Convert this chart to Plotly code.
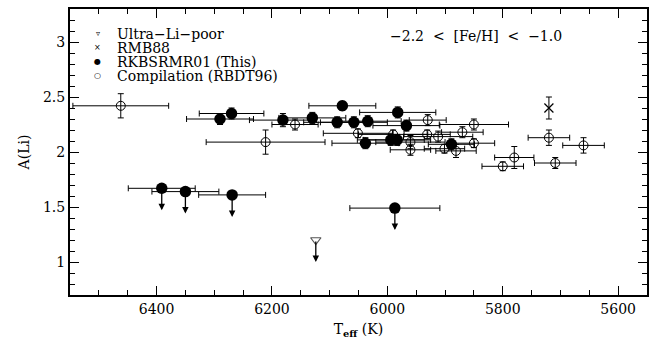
import plotly.graph_objects as go

# ---- Compilation (RBDT96) : open circles ----
comp_teff = [6462, 6211, 6160, 6051, 5990, 5930, 5931, 5912, 5870, 5850, 5850,
             5960, 5960, 5901, 5881, 5780, 5800, 5720, 5709, 5660]
comp_ali = [2.42, 2.09, 2.25, 2.17, 2.16, 2.29, 2.16, 2.14, 2.18, 2.25, 2.08,
            2.09, 2.02, 2.03, 2.01, 1.95, 1.87, 2.13, 1.90, 2.06]
comp_xerr = [83, 103, 40, 60, 60, 32, 40, 60, 36, 60, 36,
             60, 35, 35, 35, 34, 36, 36, 36, 36]
comp_yerr = [0.11, 0.11, 0.05, 0.04, 0.04, 0.05, 0.04, 0.05, 0.05, 0.05, 0.04,
             0.06, 0.05, 0.04, 0.06, 0.10, 0.04, 0.07, 0.05, 0.07]

# ---- RKBSRMR01 (This) : filled circles, detections ----
this_teff = [6290, 6270, 6181, 6130, 6078, 6087, 6058, 6034, 5982, 5967,
             6038, 5994, 5983, 5889]
this_ali = [2.30, 2.35, 2.29, 2.31, 2.42, 2.27, 2.27, 2.28, 2.36, 2.24,
            2.08, 2.11, 2.11, 2.07]
this_xerr = [58, 56, 58, 58, 58, 58, 58, 58, 66, 58, 58, 58, 58, 40]
this_yerr = [0.05, 0.05, 0.06, 0.05, 0.04, 0.05, 0.05, 0.05, 0.05, 0.05,
             0.05, 0.05, 0.05, 0.05]

# ---- RKBSRMR01 upper limits ----
lim_teff = [6391, 6350, 6269, 5987]
lim_ali = [1.67, 1.64, 1.61, 1.49]
lim_xerr = [58, 58, 58, 78]

# ---- RMB88 ----
rmb_teff = [5720]
rmb_ali = [2.40]
rmb_yerr = [0.10]

# ---- Ultra-Li-poor (upper limit) ----
ulp_teff = [6124]
ulp_ali = [1.20]

arrow_len = 0.2

legend_labels = ["Ultra\u2212Li\u2212poor", "RMB88", "RKBSRMR01 (This)",
                 "Compilation (RBDT96)"]
legend_symbols = ["\u25BF", "\u00D7", "\u25CF", "\u25CB"]

FONT = "DejaVu Serif"
ebx = dict(type="data", thickness=1, width=3, color="black")

fig = go.Figure()

fig.add_trace(go.Scatter(
    x=comp_teff, y=comp_ali, mode="markers", showlegend=False,
    marker=dict(symbol="circle-open", size=9, color="black", line=dict(width=1)),
    error_x=dict(array=comp_xerr, **ebx), error_y=dict(array=comp_yerr, **ebx)))

fig.add_trace(go.Scatter(
    x=this_teff, y=this_ali, mode="markers", showlegend=False,
    marker=dict(symbol="circle", size=11.5, color="black"),
    error_x=dict(array=this_xerr, **ebx), error_y=dict(array=this_yerr, **ebx)))

fig.add_trace(go.Scatter(
    x=lim_teff, y=lim_ali, mode="markers", showlegend=False,
    marker=dict(symbol="circle", size=11.5, color="black"),
    error_x=dict(array=lim_xerr, **ebx)))

fig.add_trace(go.Scatter(
    x=rmb_teff, y=rmb_ali, mode="markers", showlegend=False,
    marker=dict(symbol="x-thin-open", size=9, color="black", line=dict(width=1.2)),
    error_y=dict(array=rmb_yerr, **ebx)))

fig.add_trace(go.Scatter(
    x=ulp_teff, y=ulp_ali, mode="markers", showlegend=False,
    marker=dict(symbol="triangle-down-open", size=9, color="#555",
                line=dict(width=1.2))))

# upper-limit arrows
for t, a in list(zip(lim_teff, lim_ali)) + list(zip(ulp_teff, ulp_ali)):
    fig.add_annotation(x=t, y=a - arrow_len, ax=t, ay=a, xref="x", yref="y",
                       axref="x", ayref="y", text="", showarrow=True,
                       arrowhead=2, arrowsize=1, arrowwidth=1.3,
                       arrowcolor="black")

# legend (drawn as text)
leg_y0 = 0.914
leg_dy = 0.049
for i, (sym, lab) in enumerate(zip(legend_symbols, legend_labels)):
    yy = leg_y0 - i * leg_dy
    fig.add_annotation(x=0.0485, y=yy, xref="paper", yref="paper", text=sym,
                       showarrow=False, xanchor="center", yanchor="middle",
                       font=dict(family="DejaVu Sans", size=8, color="black"))
    fig.add_annotation(x=0.078, y=yy, xref="paper", yref="paper", text=lab,
                       showarrow=False, xanchor="left", yanchor="middle",
                       font=dict(family=FONT, size=14, color="black"))

fig.add_annotation(x=0.703, y=0.905, xref="paper", yref="paper",
                   text="\u22122.2\u00a0\u00a0&lt;\u00a0\u00a0[Fe/H]\u00a0\u00a0&lt;\u00a0\u00a0\u22121.0",
                   showarrow=False, xanchor="center", yanchor="middle",
                   font=dict(family=FONT, size=14, color="black"))

axis_common = dict(showline=True, linewidth=2, linecolor="black", mirror="ticks",
                   ticks="inside", ticklen=9, tickwidth=1, tickcolor="black",
                   showgrid=False, zeroline=False,
                   tickfont=dict(family=FONT, size=14, color="black"))

fig.update_xaxes(range=[6550, 5550], dtick=200, tick0=0,
                 minor=dict(dtick=50, ticks="inside", ticklen=5, tickcolor="black"),
                 title=dict(text="T<sub><b>eff</b></sub> (K)", standoff=8,
                            font=dict(family=FONT, size=14, color="black")),
                 **axis_common)
fig.update_yaxes(range=[0.7, 3.3], dtick=0.5, tick0=0,
                 minor=dict(dtick=0.1, ticks="inside", ticklen=5, tickcolor="black"),
                 title=dict(text="A(Li)", standoff=10,
                            font=dict(family=FONT, size=14, color="black")),
                 **axis_common)

fig.update_layout(width=662, height=343, margin=dict(l=70, r=15, t=7, b=48),
                  paper_bgcolor="white", plot_bgcolor="white")

fig.write_html("out.html")
